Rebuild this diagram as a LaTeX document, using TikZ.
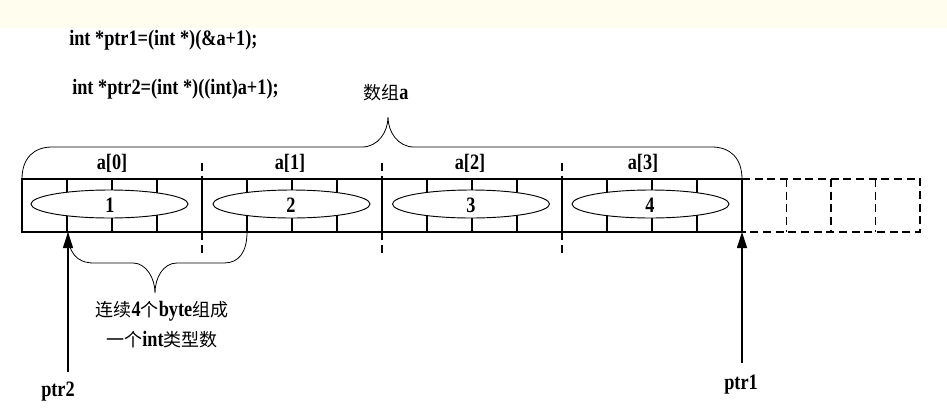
\documentclass[tikz,border=0pt]{standalone}
\usepackage{fontspec}
\setmainfont[FakeStretch=0.83]{Liberation Serif}
\newfontfamily\cjkfont{Noto Sans CJK SC}
\usetikzlibrary{arrows.meta}
\newcommand{\zh}[1]{{\cjkfont\mdseries\fontsize{13.5pt}{16pt}\selectfont #1}}
\definecolor{bandcol}{RGB}{255,254,238}
\begin{document}
\begin{tikzpicture}[x=0.75pt,y=-0.75pt,
  lbl/.style={font=\bfseries\fontsize{16.5pt}{19pt}\selectfont, inner sep=0pt, anchor=base},
  frame/.style={line width=0.9pt},
  bytel/.style={line width=0.8pt},
  dashmark/.style={line width=0.9pt, dash pattern=on 6pt off 3.75pt},
  ghost/.style={line width=0.9pt, dash pattern=on 6pt off 3.5pt},
  brace/.style={line width=0.6pt},
  cell/.style={line width=0.7pt, fill=white},
  ptrarrow/.style={line width=0.9pt, -{Triangle[length=12pt,width=7.5pt]}}]
\useasboundingbox (0,0) rectangle (947,408);
\fill[white] (0,0) rectangle (947,408);
\fill[bandcol] (0,0) rectangle (947,28);

% code lines
\node[lbl, anchor=base west] (code1) at (69,45) {int *ptr1=(int *)(\&a+1);};
\node[lbl, anchor=base west] (code2) at (72,94) {int *ptr2=(int *)((int)a+1);};
\node[lbl] (arrname) at (386,99) {\zh{数组}a};

% byte lines inside elements
\foreach \s in {22,202,382,562} {
  \foreach \b in {45,90,135} {
    \draw[bytel] (\s+\b,179) -- (\s+\b,232);
  }
}
% frame and element dividers
\draw[frame] (22,179) rectangle (742,232);
\foreach \x in {202,382,562} {
  \draw[frame] (\x,179) -- (\x,232);
  \draw[dashmark] (\x,163) -- (\x,179);
  \draw[dashmark] (\x,232) -- (\x,253);
}

% ellipses with values
\draw[cell] (109.5,204) ellipse [x radius=78.5, y radius=14];
\draw[cell] (291.5,204) ellipse [x radius=78.5, y radius=14];
\draw[cell] (471,204) ellipse [x radius=78.5, y radius=14];
\draw[cell] (650.5,204) ellipse [x radius=78.5, y radius=14];
\node[lbl] (v1) at (110,212) {1};
\node[lbl] (v2) at (291,212) {2};
\node[lbl] (v3) at (471,212) {3};
\node[lbl] (v4) at (650,212) {4};

% element labels
\node[lbl] (e0) at (112,169) {a[0]};
\node[lbl] (e1) at (290,169) {a[1]};
\node[lbl] (e2) at (470,169) {a[2]};
\node[lbl] (e3) at (643,169) {a[3]};

% dashed next element
\draw[ghost] (742,179) -- (920,179) -- (920,232) -- (742,232);
\foreach \x in {786.5,831,875.5} {
  \draw[ghost] (\x,179) -- (\x,232);
}

% top brace
\draw[brace] (22,179) .. controls (22,158) and (34,147) .. (52,147) -- (362,147)
  .. controls (378,147) and (388,132) .. (388,117)
  .. controls (388,132) and (398,147) .. (414,147) -- (712,147)
  .. controls (730,147) and (742,158) .. (742,179);

% bottom brace
\draw[brace] (68,232) .. controls (68,252) and (76,263) .. (94,263) -- (133,263)
  .. controls (146,263) and (155,278) .. (155,293)
  .. controls (155,278) and (163,263) .. (177,263) -- (224,263)
  .. controls (239,263) and (247,252) .. (247,232);

\node[lbl] (note1) at (162,316) {\zh{连续}4\zh{个}byte\zh{组成}};
\node[lbl] (note2) at (162,346) {\zh{一个}int\zh{类型数}};

% pointers
\coordinate (p2start) at (68,372);
\coordinate (p2tip) at (68,232);
\coordinate (p1start) at (742,363);
\coordinate (p1tip) at (742,232);
\draw[ptrarrow] (p2start) -- (p2tip);
\draw[ptrarrow] (p1start) -- (p1tip);
\node[lbl] (ptr2) at (58,396) {ptr2};
\node[lbl] (ptr1) at (741,389) {ptr1};
\end{tikzpicture}
\end{document}
